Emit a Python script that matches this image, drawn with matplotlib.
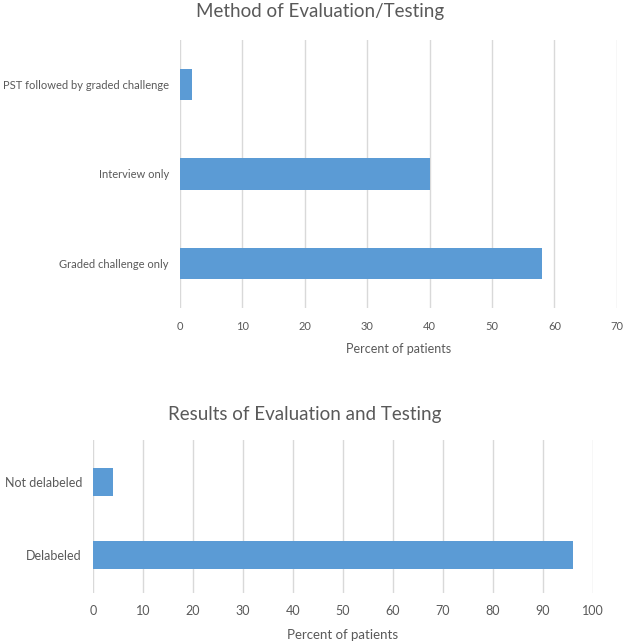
import matplotlib.pyplot as plt

## data
method_labels = ['Graded challenge only', 'Interview only', 'PST followed by graded challenge']
method_values = [58, 40, 2]
result_labels = ['Delabeled', 'Not delabeled']
result_values = [96, 4]

bar_color = '#5B9BD5'
text_color = '#595959'
grid_color = '#D9D9D9'

plt.rcParams['font.family'] = ['Lato', 'DejaVu Sans']

fig = plt.figure(figsize=(6.25, 6.41), dpi=100)


def style_axis(ax, xmax, step, size):
    ax.set_xlim(0, xmax)
    ax.set_xticks(range(0, xmax + 1, step))
    ax.grid(axis='x', color=grid_color, linewidth=1)
    ax.set_axisbelow(True)
    for s in ax.spines.values():
        s.set_visible(False)
    ax.tick_params(length=0, colors=text_color, labelsize=size)
    ax.tick_params(axis='x', pad=9)
    ax.tick_params(axis='y', pad=8)


# top chart
ax1 = fig.add_axes([0.288, 0.5195, 0.699, 0.4181])
ax1.barh(method_labels, method_values, height=0.35, color=bar_color)
ax1.set_ylim(-0.5, len(method_labels) - 0.5)
style_axis(ax1, 70, 10, 8)
ax1.set_xlabel('Percent of patients', color=text_color, fontsize=9, labelpad=8)
fig.text(0.512, 0.982, 'Method of Evaluation/Testing', ha='center', va='center',
         color=text_color, fontsize=13.5)

# bottom chart
ax2 = fig.add_axes([0.1488, 0.075, 0.8, 0.2386])
ax2.barh(result_labels, result_values, height=0.38, color=bar_color)
ax2.set_ylim(-0.52, 1.58)
style_axis(ax2, 100, 10, 9)
ax2.set_xlabel('Percent of patients', color=text_color, fontsize=9.5, labelpad=8)
fig.text(0.488, 0.353, 'Results of Evaluation and Testing', ha='center', va='center',
         color=text_color, fontsize=13.5)

fig.savefig('out.png', dpi=100)
